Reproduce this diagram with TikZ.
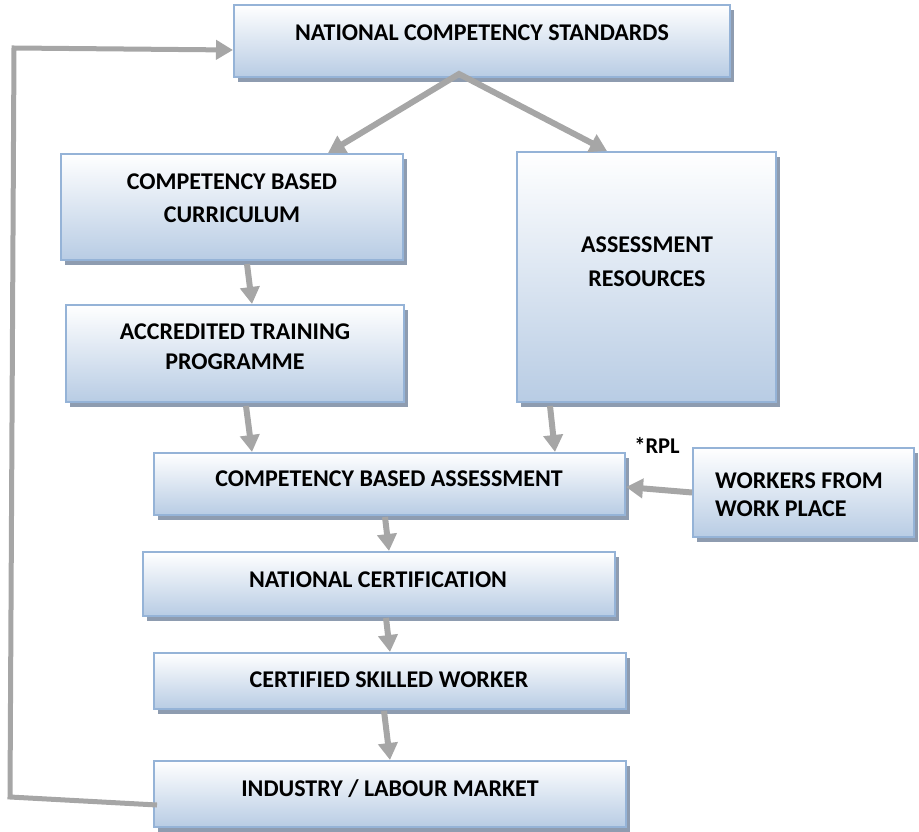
\documentclass[tikz,border=0pt]{standalone}
\usepackage{fontspec}
\setmainfont{Carlito}
\usetikzlibrary{arrows.meta,shadows,calc}
\definecolor{bordc}{HTML}{95B3D7}
\definecolor{botc}{HTML}{B8CCE4}
\definecolor{shadc}{HTML}{8E9CB0}
\definecolor{arrc}{HTML}{A6A6A6}
\tikzset{
  box/.style={draw=bordc, line width=2pt, top color=white, bottom color=botc,
    drop shadow={shadow xshift=4pt, shadow yshift=-5pt, fill=shadc, opacity=1},
    inner sep=0pt},
  lbl/.style={font=\bfseries\fontsize{24}{29}\selectfont, inner sep=0pt, align=center},
  tip/.tip={Triangle[length=17pt,width=19pt]},
  arr/.style={draw=arrc, line width=6pt, -tip},
}
\begin{document}
\begin{tikzpicture}[x=1pt,y=-1pt]
\useasboundingbox (0,0) rectangle (919,832);
% boxes
\node[box, minimum width=496pt, minimum height=72pt] (ncs) at (482,41) {};
\node[lbl] (ncst) at (482,33) {NATIONAL COMPETENCY STANDARDS};
\node[box, minimum width=342pt, minimum height=106pt] (cbc) at (232,207) {};
\node[lbl, font=\bfseries\fontsize{24}{33}\selectfont] (cbct) at (232,198) {COMPETENCY BASED\\CURRICULUM};
\node[box, minimum width=259pt, minimum height=250pt] (ar) at (646.5,277) {};
\node[lbl, font=\bfseries\fontsize{24}{34}\selectfont] (art) at (647,262) {ASSESSMENT\\RESOURCES};
\node[box, minimum width=338pt, minimum height=97pt] (atp) at (235,353.5) {};
\node[lbl, font=\bfseries\fontsize{24}{30}\selectfont] (atpt) at (235,346.5) {ACCREDITED TRAINING\\PROGRAMME};
\node[box, minimum width=471pt, minimum height=62pt] (cba) at (389.5,484) {};
\node[lbl] (cbat) at (389,479) {COMPETENCY BASED ASSESSMENT};
\node[box, minimum width=221pt, minimum height=89pt] (wrk) at (803.5,492.5) {};
\node[lbl, align=left, anchor=west, font=\bfseries\fontsize{24}{28}\selectfont] (wrkt) at (715,495) {WORKERS FROM\\WORK PLACE};
\node[lbl, font=\bfseries\fontsize{22.5}{26}\selectfont] (rpl) at (657,445) {*RPL};
\node[box, minimum width=472pt, minimum height=64pt] (nc) at (379,584) {};
\node[lbl] (nct) at (378,580) {NATIONAL CERTIFICATION};
\node[box, minimum width=472pt, minimum height=56pt] (csw) at (390,681) {};
\node[lbl] (cswt) at (389,680) {CERTIFIED SKILLED WORKER};
\node[box, minimum width=472pt, minimum height=66pt] (ind) at (390,794) {};
\node[lbl] (indt) at (390,789) {INDUSTRY / LABOUR MARKET};
% connectors
\coordinate (apex) at ([xshift=-23pt,yshift=4pt]ncs.south);
\draw[arr, tip-tip, line join=miter] ([xshift=96pt]cbc.north) -- (apex) -- ([xshift=-39.5pt]ar.north);
\draw[arr] ([xshift=15pt,yshift=-3pt]cbc.south) -- ([xshift=17pt]atp.north);
\draw[arr] ([xshift=11pt,yshift=-3pt]atp.south) -- ([xshift=-137.5pt]cba.north);
\draw[arr] ([xshift=-96.5pt,yshift=-3pt]ar.south) -- ([xshift=165.5pt]cba.north);
\draw[arr] (wrk.west) -- ([yshift=-3pt]cba.east);
\draw[arr] ([xshift=-4.5pt,yshift=-1pt]cba.south) -- ([xshift=10pt]nc.north);
\draw[arr] ([xshift=7pt,yshift=-1pt]nc.south) -- (csw.north);
\draw[arr] ([xshift=-6pt,yshift=-1pt]csw.south) -- (ind.north);
\coordinate (fb1) at (10,797);
\coordinate (fb2) at (14,48);
\draw[arr, line width=5pt, line join=miter] ([xshift=4pt,yshift=-11pt]ind.west) -- (fb1) -- (fb2) -- ([yshift=-9pt]ncs.west);
\end{tikzpicture}
\end{document}
